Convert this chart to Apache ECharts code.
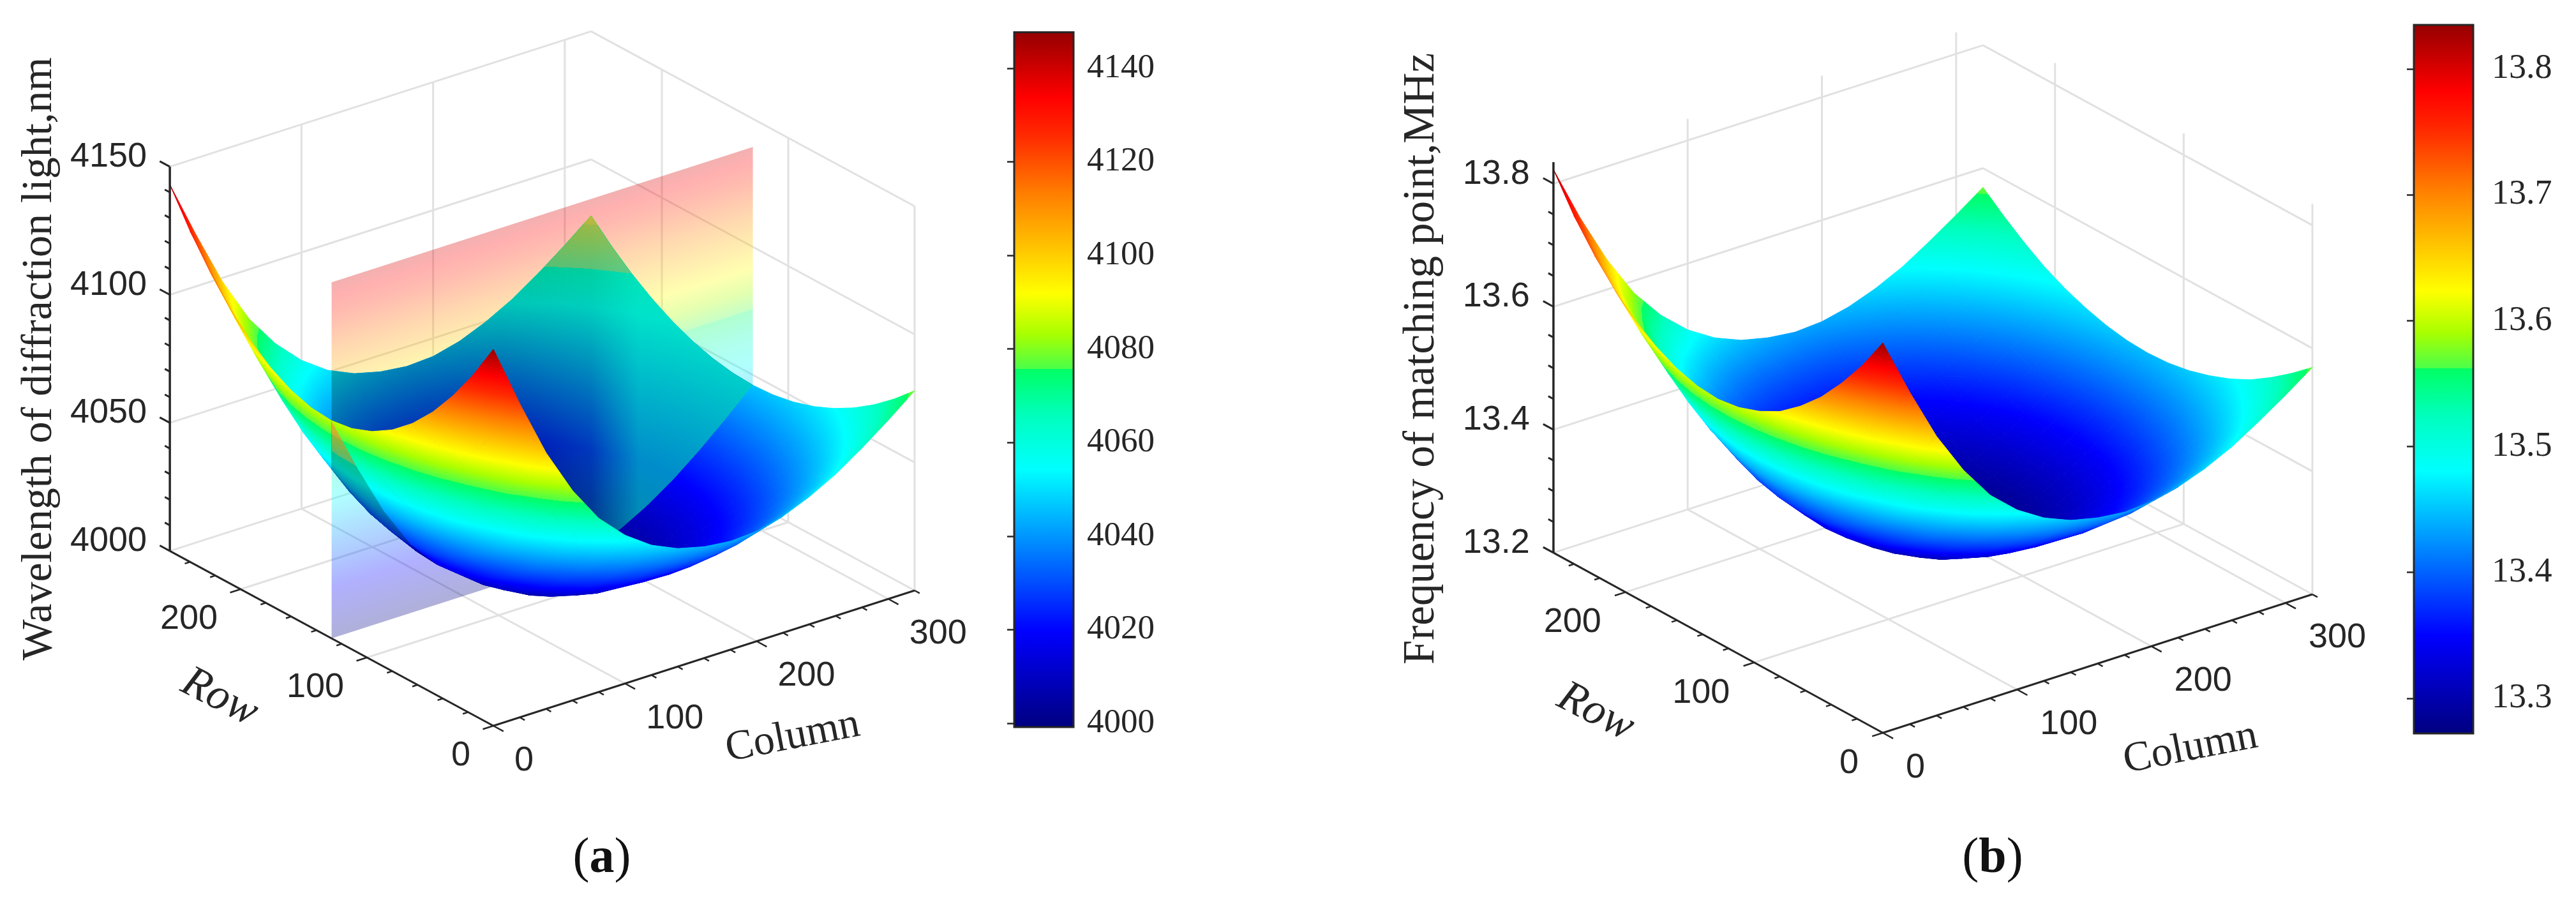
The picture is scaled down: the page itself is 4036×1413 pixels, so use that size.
<!DOCTYPE html>
<html><head><meta charset="utf-8">
<style>html,body{margin:0;padding:0;background:#fff}#c{width:4036px;height:1413px}</style>
<script src="https://cdn.jsdelivr.net/npm/echarts@6/dist/echarts.min.js"></script>
</head><body><div id="c"></div>
<script>
// ---- data ----
const rowIndex=[0,16,32,48,64,80,96,112,128,144,160,176,192,208,224,240,256];
const colIndex=[0,20,40,60,80,100,120,140,160,180,200,220,240,260,280,300,320];
const waveR0  =[4147,4122.5,4100,4082,4067.8,4057.9,4050.7,4046.1,4043.5,4042.3,4042.9,4045.5,4049.8,4055.3,4062.2,4069.8,4078];
const waveR16 =[4132.7,4108.7,4086.8,4068.9,4055.6,4046.2,4039.4,4035.3,4033.3,4032.5,4033.4,4036.4,4041,4046.8,4054,4061.9,4070.5];
const waveR32 =[4120.3,4096.7,4075.2,4057.8,4045,4036,4029.6,4026,4024.5,4023.9,4025.2,4028.4,4033.3,4039.5,4047,4055.2,4064];
const waveR48 =[4109.7,4086.6,4065.5,4048.5,4036,4027.4,4021.4,4018.1,4017,4016.7,4018.2,4021.7,4026.9,4033.3,4041,4049.4,4058.5];
const waveR64 =[4101,4078.2,4057.5,4040.8,4028.7,4020.4,4014.6,4011.6,4010.9,4010.8,4012.5,4016.3,4021.6,4028.2,4036.1,4044.7,4054];
const waveR80 =[4094.2,4071.7,4051.2,4034.8,4023,4014.9,4009.4,4006.6,4006.1,4006.2,4008.1,4012,4017.5,4024.3,4032.3,4041.1,4050.5];
const waveR96 =[4089.3,4066.9,4046.7,4030.5,4019,4011,4005.6,4003,4002.7,4002.9,4004.9,4008.9,4014.6,4021.5,4029.6,4038.5,4048];
const waveR112=[4086.2,4064.1,4044,4027.8,4016.5,4008.7,4003.4,4000.8,4000.7,4001,4003,4007.1,4012.8,4019.8,4027.9,4036.9,4046.5];
const waveR128=[4085,4063,4043,4027,4015.7,4007.9,4002.6,4000.1,4000,4000.3,4002.4,4006.5,4012.2,4019.2,4027.4,4036.4,4046];
const waveR144=[4085.7,4063.7,4043.8,4027.8,4016.5,4008.7,4003.4,4000.8,4000.7,4001,4003,4007.1,4012.8,4019.8,4027.9,4036.9,4046.5];
const waveR160=[4088.3,4066.3,4046.3,4030.3,4019,4011,4005.6,4003,4002.7,4002.9,4004.9,4008.9,4014.6,4021.5,4029.6,4038.5,4048];
const waveR176=[4092.7,4070.7,4050.6,4034.4,4023,4014.9,4009.4,4006.6,4006.1,4006.2,4008.1,4012,4017.5,4024.3,4032.3,4041.1,4050.5];
const waveR192=[4099,4077,4056.7,4040.4,4028.7,4020.4,4014.6,4011.6,4010.9,4010.8,4012.5,4016.3,4021.6,4028.2,4036.1,4044.7,4054];
const waveR208=[4107.2,4085,4064.5,4047.9,4036,4027.4,4021.4,4018.1,4017,4016.7,4018.2,4021.7,4026.9,4033.3,4041,4049.4,4058.5];
const waveR224=[4117.3,4094.9,4074,4057.3,4045,4036,4029.6,4026,4024.5,4023.9,4025.2,4028.4,4033.3,4039.5,4047,4055.2,4064];
const waveR240=[4129.2,4106.5,4085.4,4068.1,4055.6,4046.2,4039.4,4035.3,4033.3,4032.5,4033.4,4036.4,4041,4046.8,4054,4061.9,4070.5];
const waveR256=[4143,4120,4098.5,4080.8,4067.8,4057.9,4050.7,4046.1,4043.5,4042.3,4042.9,4045.5,4049.8,4055.3,4062.2,4069.8,4078];
const waveTable=[waveR0,waveR16,waveR32,waveR48,waveR64,waveR80,waveR96,waveR112,waveR128,waveR144,waveR160,waveR176,waveR192,waveR208,waveR224,waveR240,waveR256];

const freqR0  =[13.834,13.740,13.654,13.585,13.530,13.492,13.465,13.447,13.437,13.432,13.435,13.445,13.461,13.482,13.509,13.538,13.569];
const freqR16 =[13.779,13.687,13.603,13.534,13.483,13.447,13.421,13.405,13.398,13.395,13.398,13.410,13.427,13.450,13.477,13.508,13.541];
const freqR32 =[13.732,13.641,13.559,13.492,13.443,13.408,13.384,13.370,13.364,13.362,13.367,13.379,13.398,13.422,13.450,13.482,13.516];
const freqR48 =[13.691,13.602,13.521,13.456,13.408,13.375,13.352,13.339,13.335,13.334,13.340,13.353,13.373,13.398,13.427,13.460,13.494];
const freqR64 =[13.658,13.570,13.491,13.427,13.380,13.348,13.326,13.315,13.312,13.311,13.318,13.333,13.353,13.378,13.409,13.442,13.477];
const freqR80 =[13.631,13.545,13.466,13.404,13.358,13.327,13.306,13.295,13.293,13.294,13.301,13.316,13.337,13.363,13.394,13.428,13.464];
const freqR96 =[13.613,13.527,13.449,13.387,13.343,13.312,13.291,13.282,13.280,13.281,13.289,13.304,13.326,13.352,13.384,13.418,13.454];
const freqR112=[13.601,13.516,13.439,13.377,13.333,13.303,13.283,13.273,13.273,13.274,13.282,13.297,13.319,13.346,13.377,13.412,13.448];
const freqR128=[13.596,13.512,13.435,13.374,13.330,13.300,13.280,13.270,13.270,13.271,13.279,13.295,13.317,13.344,13.375,13.410,13.446];
const freqR144=[13.599,13.514,13.438,13.377,13.333,13.303,13.283,13.273,13.273,13.274,13.282,13.297,13.319,13.346,13.377,13.412,13.448];
const freqR160=[13.609,13.524,13.448,13.386,13.343,13.312,13.291,13.282,13.280,13.281,13.289,13.304,13.326,13.352,13.384,13.418,13.454];
const freqR176=[13.626,13.541,13.464,13.402,13.358,13.327,13.306,13.295,13.293,13.294,13.301,13.316,13.337,13.363,13.394,13.428,13.464];
const freqR192=[13.650,13.565,13.488,13.425,13.380,13.348,13.326,13.315,13.312,13.311,13.318,13.333,13.353,13.378,13.409,13.442,13.477];
const freqR208=[13.681,13.596,13.517,13.454,13.408,13.375,13.352,13.339,13.335,13.334,13.340,13.353,13.373,13.398,13.427,13.460,13.494];
const freqR224=[13.720,13.634,13.554,13.490,13.443,13.408,13.384,13.370,13.364,13.362,13.367,13.379,13.398,13.422,13.450,13.482,13.516];
const freqR240=[13.766,13.679,13.598,13.531,13.483,13.447,13.421,13.405,13.398,13.395,13.398,13.410,13.427,13.450,13.477,13.508,13.541];
const freqR256=[13.823,13.730,13.648,13.580,13.530,13.492,13.465,13.447,13.437,13.432,13.435,13.445,13.461,13.482,13.509,13.538,13.569];
const freqTable=[freqR0,freqR16,freqR32,freqR48,freqR64,freqR80,freqR96,freqR112,freqR128,freqR144,freqR160,freqR176,freqR192,freqR208,freqR224,freqR240,freqR256];

const rowMajor=[0,100,200], rowMinor=[20,40,60,80,120,140,160,180,220,240];
const colMajor=[0,100,200,300], colMinor=[20,40,60,80,120,140,160,180,220,240,260,280,320];
const waveTicks=[4000,4050,4100,4150], waveMinor=[4010,4020,4030,4040,4060,4070,4080,4090,4110,4120,4130,4140];
const freqTicks=[13.2,13.4,13.6,13.8], freqMinor=[13.25,13.3,13.35,13.45,13.5,13.55,13.65,13.7,13.75];
const waveBarTicks=[4000,4020,4040,4060,4080,4100,4120,4140];
const freqBarTicks=[13.3,13.4,13.5,13.6,13.7,13.8];
const wavePlane={row:128,zLow:4000,zHigh:4139};

// ---- style ----
const SANS='Liberation Sans',SERIF='Liberation Serif',INK='#262626',GRID='#e1e1e1';
const cmap=[[0,[0,0,127,1]],[.139,[0,0,255,1]],[.371,[0,255,255,1]],[.445,[0,255,192,1]],[.515,[0,255,100,1]],[.515,[74,255,74,1]],[.565,[168,255,0,1]],[.624,[255,255,0,1]],[.765,[255,128,0,1]],[.85,[255,42,0,1]],[.905,[255,0,0,1]],[1,[147,0,0,1]]];
const shadeMap=cmap.map(k=>[k[0],[k[1][0],k[1][1]*.76,k[1][2]*.71,1]]);
const tintMap=[[0,[255,170,50,0]],[.4364,[255,170,50,0]],[.4364,[255,170,50,.35]],[.5306,[255,170,50,.65]],[1,[255,170,50,.65]]];
const css=c=>'rgba('+Math.round(c[0])+','+Math.round(c[1])+','+Math.round(c[2])+','+c[3]+')';
function mapAt(m,f){f=Math.max(0,Math.min(1,f));for(let i=1;i<m.length;i++){if(f<=m[i][0]){const a=m[i-1],b=m[i];
  if(b[0]===a[0])return css(b[1]);const t=(f-a[0])/(b[0]-a[0]);return css(a[1].map((v,k)=>v+(b[1][k]-v)*t));}}return css(m[m.length-1][1]);}
function stopsBetween(m,fa,fb){const s=[{offset:0,color:mapAt(m,fa)}];m.forEach(k=>{if(k[0]>fa&&k[0]<fb)s.push({offset:(k[0]-fa)/(fb-fa),color:css(k[1])});});s.push({offset:1,color:mapAt(m,fb)});return s;}
function triGradient(P,V,lo,hi,m){
  const f=V.map(v=>(v-lo)/(hi-lo)),fa=Math.min(...f),fb=Math.max(...f);
  if(fb-fa<1e-7)return mapAt(m,fa);
  const d1=[P[1][0]-P[0][0],P[1][1]-P[0][1]],d2=[P[2][0]-P[0][0],P[2][1]-P[0][1]],e1=f[1]-f[0],e2=f[2]-f[0];
  const det=d1[0]*d2[1]-d1[1]*d2[0];
  if(Math.abs(det)<1e-6)return mapAt(m,(fa+fb)/2);
  const gx=(e1*d2[1]-e2*d1[1])/det,gy=(d1[0]*e2-d2[0]*e1)/det,g2=gx*gx+gy*gy;
  const A=[P[0][0]+gx*(fa-f[0])/g2,P[0][1]+gy*(fa-f[0])/g2],B=[P[0][0]+gx*(fb-f[0])/g2,P[0][1]+gy*(fb-f[0])/g2];
  return new echarts.graphic.LinearGradient(A[0],A[1],B[0],B[1],stopsBetween(m,fa,fb),true);
}

const panels=[
 {table:waveTable,O:[773,1137],colV:[2.0625,-.6625],rowV:[-1.98,-1.07],zV:4.013,z0:4000,zTop:4150,lo:3999.2,hi:4147.7,
  ticks:waveTicks,minor:waveMinor,plane:wavePlane,
  rowLab:[-36,47],colLab:[33,55],zLab:[-36,-15],
  zTitle:{t:'Wavelength of diffraction light,nm',x:62,y:562,s:68},
  rowTitle:{x:344,y:1093,s:70},colTitle:{x:1242,y:1155,s:66},cap:{rich:'({b|a})',x:943,y:1346},
  fmt:v=>String(v),left:0},
 {table:freqTable,O:[2950,1148],colV:[2.103,-.678],rowV:[-2.016,-1.102],zV:963.5,z0:13.2,zTop:13.835,lo:13.272,hi:13.835,
  ticks:freqTicks,minor:freqMinor,plane:null,
  rowLab:[-38,48],colLab:[36,55],zLab:[-37,-15],
  zTitle:{t:'Frequency of matching point,MHz',x:2228,y:562,s:69},
  rowTitle:{x:2500,y:1116,s:70},colTitle:{x:3432,y:1173,s:66},cap:{rich:'({b|b})',x:3122,y:1346},
  fmt:v=>v.toFixed(1),left:2018}
];
function proj(p,c,r,z){return [p.O[0]+p.colV[0]*c+p.rowV[0]*r, p.O[1]+p.colV[1]*c+p.rowV[1]*r-p.zV*(z-p.z0)];}

const grids=[],xAxes=[],yAxes=[],series=[];
panels.forEach((p,pi)=>{
  grids.push({left:p.left,top:0,width:2018,height:1413,show:false});
  xAxes.push({type:'value',gridIndex:pi,min:p.left,max:p.left+2018,show:false});
  yAxes.push({type:'value',gridIndex:pi,min:0,max:1413,inverse:true,show:false});
  const base={type:'custom',coordinateSystem:'cartesian2d',xAxisIndex:pi,yAxisIndex:pi,silent:true,animation:false,clip:false,progressive:0};
  const RM=256,CM=320;
  // walls and floor
  const lines=[];
  p.ticks.forEach(z=>{lines.push([proj(p,0,RM,z),proj(p,CM,RM,z)]);lines.push([proj(p,CM,RM,z),proj(p,CM,0,z)]);});
  [100,200,300].forEach(c=>{lines.push([proj(p,c,RM,p.z0),proj(p,c,RM,p.zTop)]);lines.push([proj(p,c,0,p.z0),proj(p,c,RM,p.z0)]);});
  [0,100,200].forEach(r=>{lines.push([proj(p,CM,r,p.z0),proj(p,CM,r,p.zTop)]);});
  [100,200].forEach(r=>lines.push([proj(p,0,r,p.z0),proj(p,CM,r,p.z0)]));
  series.push(Object.assign({},base,{z:1,data:lines.map((l,i)=>[l[0][0],l[0][1],i]),
    renderItem:(pa,api)=>{const l=lines[pa.dataIndex],a=api.coord(l[0]),b=api.coord(l[1]);
      return {type:'line',shape:{x1:a[0],y1:a[1],x2:b[0],y2:b[1]},style:{stroke:GRID,lineWidth:3,opacity:1}};}}));
  // translucent plane on the white background
  let planePts=null;
  if(p.plane){const q=p.plane;
    const C=[[0,q.zLow],[CM,q.zLow],[CM,q.zHigh],[0,q.zHigh]];
    planePts=C.map(e=>proj(p,e[0],q.row,e[1]));
    series.push(Object.assign({},base,{z:2,data:[[0,q.row,q.zLow]],renderItem:(pa,api)=>{
      const P=planePts.map(e=>api.coord(e));
      return {type:'polygon',shape:{points:P},style:{fill:triGradient(P.slice(0,3),[q.zLow,q.zLow,q.zHigh],p.lo,p.hi,cmap),opacity:.31}};}}));
  }
  // surface triangles, far to near
  function tris(rFrom,rTo){const T=[];
    for(let ri=rFrom;ri>rTo;ri--){const ra=rowIndex[ri],rb=rowIndex[ri-1];
      for(let ci=colIndex.length-1;ci>0;ci--){const ca=colIndex[ci],cb=colIndex[ci-1];
        const v=(i,j)=>p.table[i][j];
        const q=[[ca,ra,v(ri,ci)],[cb,ra,v(ri,ci-1)],[cb,rb,v(ri-1,ci-1)],[ca,rb,v(ri-1,ci)]];
        T.push([q[0],q[1],q[3]]);T.push([q[1],q[2],q[3]]);
      }}return T;}
  const drawTri=(T,m,clipFn)=>(pa,api)=>{const t=T[pa.dataIndex],P=t.map(q=>api.coord(proj(p,q[0],q[1],q[2]))),V=t.map(q=>q[2]);
    const fill=triGradient(P,V,p.lo,p.hi,m);
    const el={type:'polygon',shape:{points:P},style:{fill:fill,stroke:fill,lineWidth:1,lineJoin:'round'}};
    if(clipFn)el.clipPath=clipFn(api);
    return el;};
  const T1=tris(16,8),T2=tris(8,0);
  const cells=T=>T.map(t=>[t[0][0],t[0][1],t[0][2]]);
  series.push(Object.assign({},base,{z:3,data:cells(T1),renderItem:drawTri(T1,cmap)}));
  if(p.plane){
    // far half as seen through the plane
    const clip=api=>({type:'polygon',shape:{points:planePts.map(e=>api.coord(e))}});
    series.push(Object.assign({},base,{z:4,data:cells(T1),renderItem:drawTri(T1,shadeMap,clip)}));
    const iR=p.plane.row/16, outline=[];
    colIndex.forEach((c,j)=>outline.push([c,RM,p.table[16][j]]));
    for(let i=15;i>=iR;i--)outline.push([CM,rowIndex[i],p.table[i][16]]);
    for(let j=15;j>=0;j--)outline.push([colIndex[j],rowIndex[iR],p.table[iR][j]]);
    for(let i=iR+1;i<16;i++)outline.push([0,rowIndex[i],p.table[i][0]]);
    series.push(Object.assign({},base,{z:5,data:[[0,RM,0]],renderItem:(pa,api)=>{
      const P=outline.map(q=>api.coord(proj(p,q[0],q[1],q[2])));
      const x0=api.coord(planePts[0])[0],x1=api.coord(planePts[1])[0];
      const fill=new echarts.graphic.LinearGradient(x0,0,x1,0,[{offset:0,color:'rgba(0,255,220,0)'},{offset:.4,color:'rgba(0,255,220,.05)'},{offset:.615,color:'rgba(0,255,220,.22)'},{offset:.73,color:'rgba(0,255,220,.55)'},{offset:1,color:'rgba(0,255,220,.55)'}],true);
      return {type:'polygon',shape:{points:P},clipPath:clip(api),style:{fill:fill}};}}));
    const TT=T1.filter(t=>Math.max(t[0][2],t[1][2],t[2][2])>=4064);
    series.push(Object.assign({},base,{z:5.5,data:cells(TT),renderItem:(pa,api)=>{
      const t=TT[pa.dataIndex],P=t.map(q=>api.coord(proj(p,q[0],q[1],q[2]))),V=t.map(q=>q[2]);
      return {type:'polygon',shape:{points:P},clipPath:clip(api),style:{fill:triGradient(P,V,p.lo,p.hi,tintMap)}};}}));
  }
  series.push(Object.assign({},base,{z:6,data:cells(T2),renderItem:drawTri(T2,cmap)}));
  // axis lines and ticks
  const segs=[];
  segs.push({a:proj(p,0,0,p.z0),b:proj(p,0,RM,p.z0),w:3});
  segs.push({a:proj(p,0,0,p.z0),b:proj(p,CM,0,p.z0),w:3});
  segs.push({a:proj(p,0,RM,p.z0),b:proj(p,0,RM,p.zTop),w:3.5});
  const tick=(c,r,z,dc,dr,w)=>segs.push({a:proj(p,c,r,z),b:proj(p,c+dc,r+dr,z),w:w});
  rowMajor.forEach(r=>tick(0,r,p.z0,-8,0,2.5));rowMinor.forEach(r=>tick(0,r,p.z0,-4,0,2.5));
  colMajor.forEach(c=>tick(c,0,p.z0,0,-8,2.5));colMinor.forEach(c=>tick(c,0,p.z0,0,-4,2.5));
  p.ticks.forEach(z=>tick(0,RM,z,0,8,3));p.minor.forEach(z=>tick(0,RM,z,0,4,3));
  series.push(Object.assign({},base,{z:7,data:segs.map((s,i)=>[s.a[0],s.a[1],i]),renderItem:(pa,api)=>{const s=segs[pa.dataIndex],a=api.coord(s.a),b=api.coord(s.b);
      return {type:'line',shape:{x1:a[0],y1:a[1],x2:b[0],y2:b[1]},style:{stroke:INK,lineWidth:s.w}};}}));
  // text
  const labels=[];
  const add=(t,x,y,o)=>labels.push(Object.assign({t:t,x:x,y:y,align:'center',fam:SANS,size:54,rot:0,style:'normal'},o));
  rowMajor.forEach(r=>{const q=proj(p,0,r,p.z0);add(String(r),q[0]+p.rowLab[0],q[1]+p.rowLab[1],{align:'right'});});
  colMajor.forEach(c=>{const q=proj(p,c,0,p.z0);add(String(c),q[0]+p.colLab[0],q[1]+p.colLab[1],{align:'left'});});
  p.ticks.forEach(z=>{const q=proj(p,0,RM,z);add(p.fmt(z),q[0]+p.zLab[0],q[1]+p.zLab[1],{align:'right'});});
  add(p.zTitle.t,p.zTitle.x,p.zTitle.y,{fam:SERIF,size:p.zTitle.s,rot:Math.PI/2});
  add('Row',p.rowTitle.x,p.rowTitle.y,{fam:SERIF,size:p.rowTitle.s,rot:-27*Math.PI/180,style:'italic'});
  add('Column',p.colTitle.x,p.colTitle.y,{fam:SERIF,size:p.colTitle.s,rot:11*Math.PI/180});
  add(p.cap.rich,p.cap.x,p.cap.y,{fam:SERIF,size:78,rich:true});
  series.push(Object.assign({},base,{z:8,data:labels.map((l,i)=>[l.x,l.y,i]),renderItem:(pa,api)=>{const l=labels[pa.dataIndex],a=api.coord([l.x,l.y]);
      const st={text:l.t,fill:INK,fontFamily:l.fam,fontSize:l.size,fontStyle:l.style,align:l.align,verticalAlign:'middle'};
      if(l.rich){st.fill='#111';st.rich={b:{fontFamily:l.fam,fontSize:l.size,fontWeight:'bold',fill:'#111'}};}
      return {type:'text',x:a[0],y:a[1],rotation:l.rot,style:st};}}));
});

// colour bars use real ECharts axes
const bars=[
 {left:1589,top:50.5,width:93,height:1088.5,lo:3999.2,hi:4147.7,ticks:waveBarTicks,margin:21,size:53,fmt:v=>String(v)},
 {left:3782,top:39,width:93,height:1110,lo:13.272,hi:13.835,ticks:freqBarTicks,margin:29,size:54,fmt:v=>Number(v).toFixed(1)}
];
bars.forEach((b,i)=>{const gi=grids.length;
  grids.push({left:b.left,top:b.top,width:b.width,height:b.height,show:false});
  xAxes.push({type:'value',gridIndex:gi,min:0,max:1,show:false});
  yAxes.push({type:'value',gridIndex:gi,position:'right',min:b.lo,max:b.hi,z:10,splitLine:{show:false},
    axisLine:{show:false},
    axisTick:{show:true,inside:true,length:11,customValues:b.ticks,lineStyle:{color:INK,width:2.5}},
    axisLabel:{show:true,inside:false,margin:b.margin,customValues:b.ticks,color:INK,fontFamily:SERIF,fontSize:b.size,formatter:b.fmt,showMinLabel:true,showMaxLabel:true}});
  series.push({type:'custom',coordinateSystem:'cartesian2d',xAxisIndex:gi,yAxisIndex:gi,silent:true,animation:false,z:2,clip:false,
    data:[[0,b.lo,b.hi]],renderItem:(pa,api)=>{const a=api.coord([0,b.hi]),c=api.coord([1,b.lo]);
      const stops=cmap.map(k=>({offset:1-k[0],color:css(k[1])})).reverse();
      return {type:'rect',shape:{x:a[0],y:a[1],width:c[0]-a[0],height:c[1]-a[1]},
        style:{fill:new echarts.graphic.LinearGradient(0,0,0,1,stops),stroke:INK,lineWidth:3}};}});
});

const chart=echarts.init(document.getElementById('c'),null,{renderer:'canvas',width:4036,height:1413});
chart.setOption({animation:false,backgroundColor:'#fff',grid:grids,xAxis:xAxes,yAxis:yAxes,series:series});
</script></body></html>
